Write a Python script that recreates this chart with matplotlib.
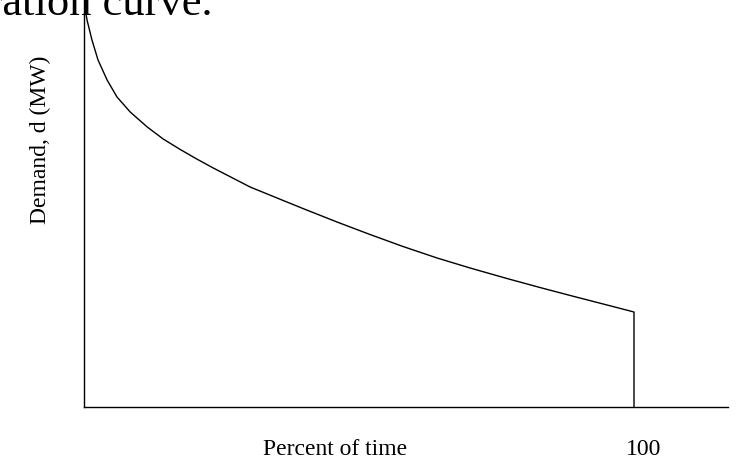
import matplotlib.pyplot as plt

# load duration curve (demand in arbitrary units)
percent = [0.0, 0.55, 1.45, 2.55, 4.2, 6.0, 8.4, 11.5, 14.4, 17.5, 20.5, 23.5,
           26.5, 30.2, 35.1, 39.8, 46.0, 52.0, 58.0, 64.2, 70.2, 76.9, 82.9,
           88.9, 95.1, 100.0, 100.0]
demand = [405, 387, 367, 347, 327, 310, 295, 280, 268, 257.5, 248, 239,
          230.5, 220, 209, 198.5, 185, 172.5, 160.5, 149, 139, 128.5, 119.5,
          110.8, 102, 95, 0]

x_label = "Percent of time"
y_label = "Demand, d (MW)"
end_label = "100"
title_text = "Load duration curve."


def main():
    W, H = 738, 459
    fig = plt.figure(figsize=(W / 100, H / 100), dpi=100)
    plt.rcParams["font.family"] = ["Liberation Serif", "DejaVu Serif"]

    ax = fig.add_axes([84 / W, (H - 407) / H, (728 - 84) / W, 407 / H])
    ax.plot(percent, demand, color="black", lw=1.0)
    ax.set_xlim(0, (728 - 84) / 5.5)
    ax.set_ylim(0, 407)
    ax.set_xticks([])
    ax.set_yticks([])
    for side in ("top", "right"):
        ax.spines[side].set_visible(False)
    for side in ("left", "bottom"):
        ax.spines[side].set_linewidth(1.0)

    # clipped title from the page above the figure
    fig.text(213 / W, 1 - 15 / H, title_text, ha="right", va="baseline", fontsize=32)

    fig.text(335 / W, 1 - 455 / H, x_label, ha="center", va="baseline", fontsize=17)
    fig.text(644 / W, 1 - 455 / H, end_label, ha="center", va="baseline", fontsize=17)
    fig.text(40 / W, 1 - 140 / H, y_label, ha="center", va="center",
             rotation=90, fontsize=17)

    fig.savefig("out.png", dpi=100)
    plt.close(fig)


if __name__ == "__main__":
    main()
